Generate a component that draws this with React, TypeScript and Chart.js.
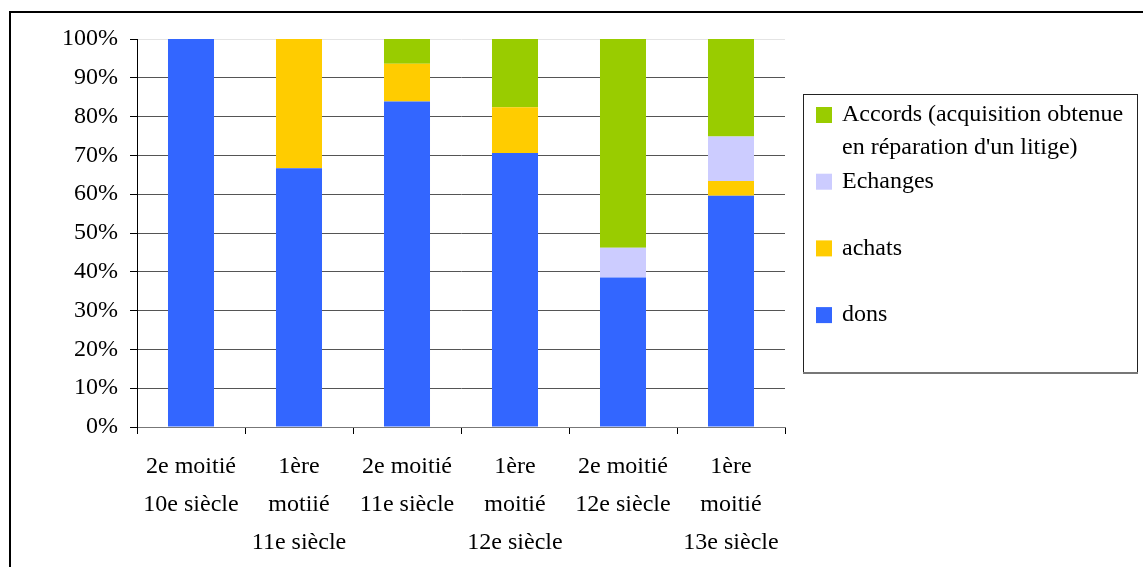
import React, { useEffect, useRef } from "react";
import { Chart, registerables } from "chart.js";

Chart.register(...registerables);

const categories: string[][] = [
  ["2e moitié", "10e siècle"],
  ["1ère", "motiié", "11e siècle"],
  ["2e moitié", "11e siècle"],
  ["1ère", "moitié", "12e siècle"],
  ["2e moitié", "12e siècle"],
  ["1ère", "moitié", "13e siècle"],
];

const dons = [100, 66.7, 83.9, 70.6, 38.5, 59.6];
const achats = [0, 33.3, 9.7, 11.8, 0, 3.8];
const echanges = [0, 0, 0, 0, 7.7, 11.5];
const accords = [0, 0, 6.4, 17.6, 53.8, 25.1];

const yTicks = [0, 10, 20, 30, 40, 50, 60, 70, 80, 90, 100];

const FONT = "'Liberation Serif', 'Times New Roman', serif";

const legendPlugin = {
  id: "customLegend",
  afterDraw(chart: any) {
    const ctx = chart.ctx as CanvasRenderingContext2D;
    ctx.save();
    // outer frame
    ctx.fillStyle = "#000";
    ctx.fillRect(9, 11, 2, 567);
    ctx.fillRect(9, 11, 1143, 2);
    // legend box
    const bx = 803.5, by = 94.5, bw = 334, bh = 278;
    ctx.fillStyle = "#fff";
    ctx.fillRect(bx, by, bw, bh);
    ctx.strokeStyle = "#222";
    ctx.lineWidth = 1;
    ctx.strokeRect(bx, by, bw, bh);
    ctx.fillStyle = "#777";
    ctx.fillRect(bx - 0.5, by + bh - 0.5, bw + 1, 2);

    ctx.font = `24px ${FONT}`;
    ctx.textBaseline = "middle";
    ctx.textAlign = "left";
    const ds = [...chart.data.datasets].reverse();
    const maxW = 292;
    let slotY = 115;
    ds.forEach((d: any) => {
      const words = String(d.label).split(" ");
      const lines: string[] = [];
      let cur = "";
      words.forEach((w) => {
        const t = cur ? cur + " " + w : w;
        if (ctx.measureText(t).width > maxW && cur) {
          lines.push(cur);
          cur = w;
        } else cur = t;
      });
      if (cur) lines.push(cur);
      ctx.fillStyle = d.backgroundColor;
      ctx.fillRect(816, slotY - 8, 16, 16);
      ctx.fillStyle = "#000";
      lines.forEach((ln, i) => ctx.fillText(ln, 842, slotY + i * 33));
      slotY += 66.7;
    });
    ctx.restore();
  },
};

export default function App() {
  const ref = useRef<HTMLCanvasElement | null>(null);
  useEffect(() => {
    if (!ref.current) return;
    const chart = new Chart(ref.current, {
      type: "bar",
      data: {
        labels: categories,
        datasets: [
          { label: "dons", data: dons, backgroundColor: "#3366FF" },
          { label: "achats", data: achats, backgroundColor: "#FFCC00" },
          { label: "Echanges", data: echanges, backgroundColor: "#CCCCFF" },
          {
            label: "Accords (acquisition obtenue en réparation d'un litige)",
            data: accords,
            backgroundColor: "#99CC00",
          },
        ],
      },
      options: {
        animation: false,
        responsive: false,
        maintainAspectRatio: false,
        devicePixelRatio: 1,
        layout: { padding: { left: 12, top: 39, right: 358, bottom: 0 } },
        datasets: {
          bar: { categoryPercentage: 1, barPercentage: 0.426, borderWidth: 0 },
        },
        plugins: { legend: { display: false }, tooltip: { enabled: false } },
        scales: {
          x: {
            stacked: true,
            afterFit: (s: any) => {
              s.height = 140;
            },
            grid: {
              offset: true,
              drawOnChartArea: false,
              drawTicks: true,
              tickLength: 7,
              color: "#000",
            },
            border: { display: true, color: "#777", width: 1 },
            ticks: {
              color: "#000",
              padding: 14,
              maxRotation: 0,
              autoSkip: false,
              font: { family: FONT, size: 24, lineHeight: 1.5833 },
            },
          },
          y: {
            stacked: true,
            min: 0,
            max: 100,
            afterFit: (s: any) => {
              s.width = 125;
            },
            afterBuildTicks: (s: any) => {
              s.ticks = yTicks.map((v) => ({ value: v }));
            },
            grid: {
              color: (c: any) => (c.tick && c.tick.value === 100 ? "#e4e4e4" : "#555"),
              tickColor: "#000",
              tickLength: 7,
              lineWidth: 1,
            },
            border: { display: true, color: "#000", width: 1 },
            ticks: {
              color: "#000",
              padding: 12,
              callback: (v: any) => v + "%",
              font: { family: FONT, size: 24 },
            },
          },
        },
      },
      plugins: [legendPlugin],
    });
    return () => chart.destroy();
  }, []);
  return (
    <div style={{ position: "fixed", left: 0, top: 0, width: 1143, height: 567, background: "#fff" }}>
      <canvas ref={ref} width={1143} height={567} style={{ display: "block" }} />
    </div>
  );
}
